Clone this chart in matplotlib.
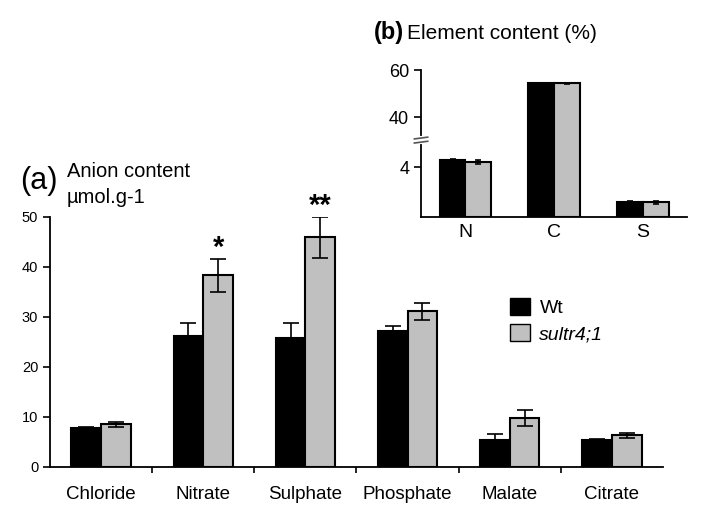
import numpy as np
import matplotlib
matplotlib.use("Agg")
import matplotlib.pyplot as plt
from matplotlib.patches import Patch

plt.rcParams["font.family"] = ["Liberation Sans", "DejaVu Sans"]

# (a) anion content, umol.g-1
anions = ["Chloride", "Nitrate", "Sulphate", "Phosphate", "Malate", "Citrate"]
wt_anion = [7.8, 26.2, 25.7, 27.2, 5.3, 5.3]
wt_anion_err = [0.2, 2.5, 3.0, 0.9, 1.3, 0.3]
mut_anion = [8.5, 38.3, 45.9, 31.1, 9.7, 6.3]
mut_anion_err = [0.5, 3.3, 4.1, 1.7, 1.6, 0.5]
stars = ["", "*", "**", "", "", ""]

# (b) element content, %
elements = ["N", "C", "S"]
wt_elem = [4.55, 54.4, 1.17]
wt_elem_err = [0.15, 0.2, 0.08]
mut_elem = [4.4, 54.3, 1.15]
mut_elem_err = [0.15, 0.2, 0.12]

BLACK = "#000000"
GREY = "#c0c0c0"
W = 0.29

fig = plt.figure(figsize=(7.1, 5.24), dpi=100)

# ---- main panel
ax = fig.add_axes([0.0704, 0.1094, 0.8634, 0.4771])
x = np.arange(len(anions))
ax.bar(x - W / 2, wt_anion, W, color=BLACK, edgecolor=BLACK, linewidth=1.5,
       yerr=wt_anion_err, capsize=5.5, error_kw=dict(elinewidth=1.2, capthick=1.2))
ax.bar(x + W / 2, mut_anion, W, color=GREY, edgecolor=BLACK, linewidth=1.5,
       yerr=mut_anion_err, capsize=5.5, error_kw=dict(elinewidth=1.2, capthick=1.2))
for i, s in enumerate(stars):
    if s:
        ax.text(x[i] + W / 2, mut_anion[i] + mut_anion_err[i] + 0.6, s,
                ha="center", va="baseline", fontsize=21, fontweight="bold")

ax.set_xlim(-0.5, len(anions) - 0.5)
ax.set_ylim(0, 50)
ax.set_yticks(np.arange(0, 51, 10))
ax.tick_params(axis="y", labelsize=10.5, length=5, width=1.2, direction="out")
for lbl in ax.get_yticklabels():
    lbl.set_family(["Liberation Sans Narrow", "Liberation Sans"])
ax.set_xticks(x)
ax.set_xticklabels(anions, fontsize=13.5)
ax.tick_params(axis="x", length=0, pad=14)
ax.set_xticks(np.arange(0.5, len(anions) - 0.5, 1), minor=True)
ax.tick_params(axis="x", which="minor", length=4, width=1.2, direction="out")
for side in ["top", "right"]:
    ax.spines[side].set_visible(False)
for side in ["left", "bottom"]:
    ax.spines[side].set_linewidth(1.3)

ax.legend(handles=[Patch(facecolor=BLACK, edgecolor=BLACK, label="Wt"),
                   Patch(facecolor=GREY, edgecolor=BLACK, label="sultr4;1")],
          loc="upper left", bbox_to_anchor=(0.705, 0.45), bbox_transform=fig.transFigure,
          frameon=False, fontsize=14, handlelength=1.0, handleheight=1.0,
          handletextpad=0.5, labelspacing=0.35, borderpad=0)
leg_texts = ax.get_legend().get_texts()
leg_texts[1].set_style("italic")

fig.text(0.028, 0.655, "(a)", fontsize=22, va="center")
fig.text(0.094, 0.672, "Anion content", fontsize=14.5, va="center")
fig.text(0.094, 0.624, "µmol.g-1", fontsize=14.5, va="center")

# ---- inset panel with broken y axis
lo_top, hi_bot = 6.2, 30.4
nodes_y = [0, lo_top, hi_bot, 60]
nodes_z = [0, 76.6, 77.0, 146.7]


def fwd(y):
    return np.interp(y, nodes_y, nodes_z)


def inv(z):
    return np.interp(z, nodes_z, nodes_y)


bx = fig.add_axes([0.593, 0.5865, 0.375, 0.2799])
bx.set_yscale("function", functions=(fwd, inv))
xe = np.arange(len(elements))
bx.bar(xe - W / 2, wt_elem, W, color=BLACK, edgecolor=BLACK, linewidth=1.5,
       yerr=wt_elem_err, capsize=2, error_kw=dict(elinewidth=1.2, capthick=1.2))
bx.bar(xe + W / 2, mut_elem, W, color=GREY, edgecolor=BLACK, linewidth=1.5,
       yerr=mut_elem_err, capsize=2, error_kw=dict(elinewidth=1.2, capthick=1.2))
bx.set_xlim(-0.5, len(elements) - 0.5)
bx.set_ylim(0, 60)
bx.set_yticks([4, 40, 60])
bx.yaxis.set_minor_locator(matplotlib.ticker.NullLocator())
bx.tick_params(axis="y", labelsize=13, length=5, width=1.2, direction="out")
bx.set_xticks(xe)
bx.set_xticklabels(elements, fontsize=14)
bx.tick_params(axis="x", length=0, pad=5)
for side in ["top", "right"]:
    bx.spines[side].set_visible(False)
for side in ["left", "bottom"]:
    bx.spines[side].set_linewidth(1.3)

# break marks on the inset y axis
yb = fwd(lo_top) / nodes_z[-1]
bx.plot([0, 0], [yb - 0.012, yb + 0.012], color="white", lw=3,
        transform=bx.transAxes, clip_on=False, zorder=5)
for dy in (-0.014, 0.014):
    bx.plot([-0.025, 0.025], [yb + dy - 0.006, yb + dy + 0.006], color="#555555",
            lw=1.2, transform=bx.transAxes, clip_on=False, zorder=6)

fig.text(0.527, 0.938, "(b)", fontsize=17, fontweight="bold", va="center")
fig.text(0.573, 0.936, "Element content (%)", fontsize=15, va="center")

fig.savefig("out.png", dpi=100)
